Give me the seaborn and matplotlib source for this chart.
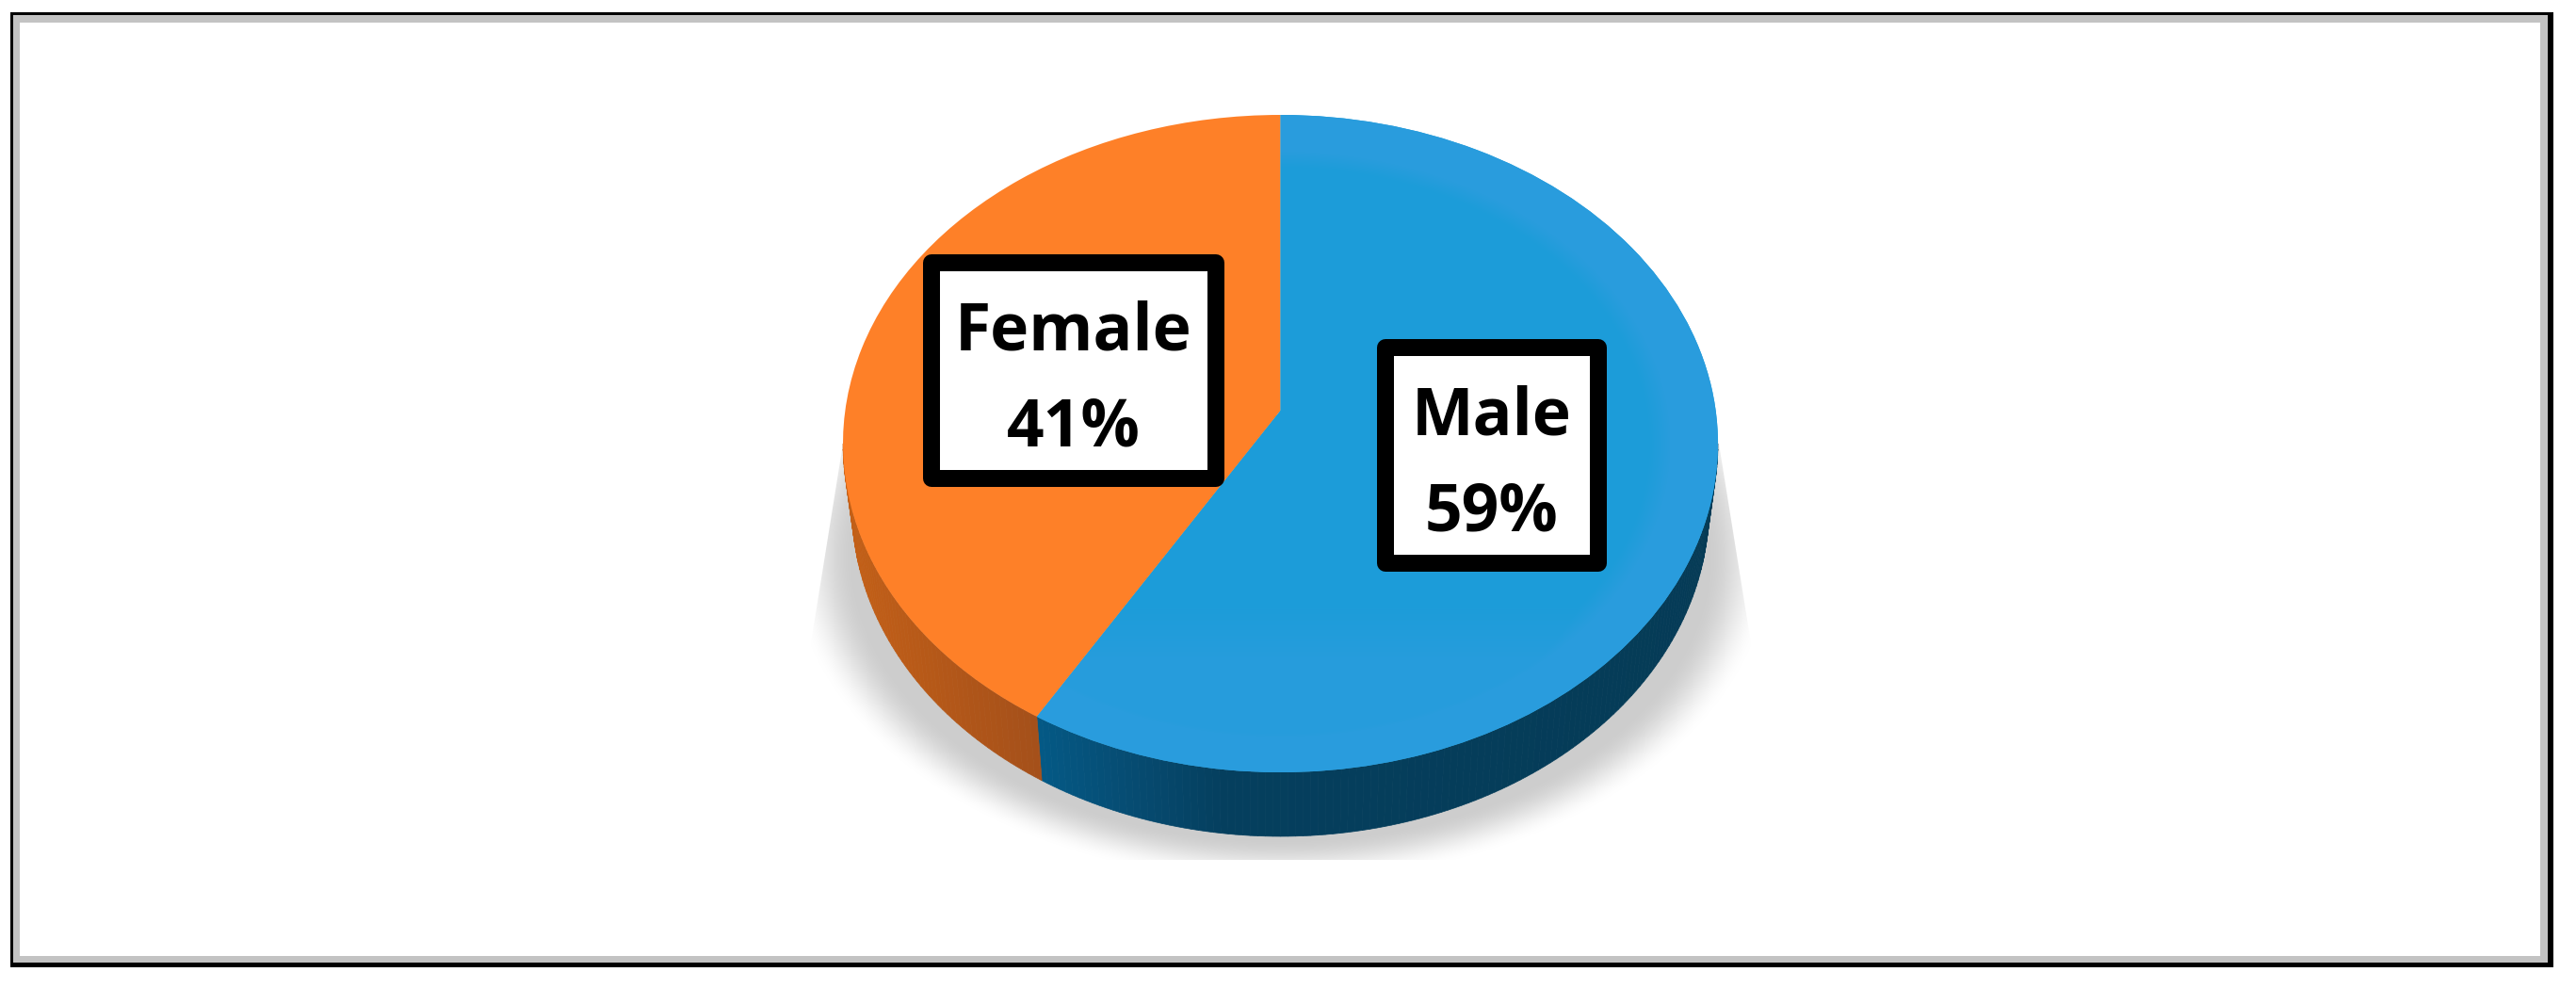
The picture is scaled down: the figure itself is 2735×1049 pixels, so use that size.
import numpy as np
import matplotlib
matplotlib.use("Agg")
import matplotlib.pyplot as plt
import seaborn as sns
from matplotlib.patches import Rectangle, PathPatch, Polygon
from matplotlib.path import Path
from matplotlib.colors import to_rgb

# values (slice edge sits a bit past the printed 59)
groups = ["Male", "Female"]
printed = ["59%", "41%"]
shares = [59.4, 40.6]

W, H = 2735, 1049
cx, cy, rx, ry = 1359.5, 471, 464.5, 349
apex_y = 436
low_cy, low_rx, low_ry = 538, 455, 350

sns.set_theme(style="white")
plt.rcParams["font.family"] = ["Open Sans", "DejaVu Sans"]
face_colors = sns.color_palette(["#1C9CD9", "#FE8028"])

fig = plt.figure(figsize=(W / 100, H / 100), dpi=100)
ax = fig.add_axes([0, 0, 1, 1])

wedges, _ = ax.pie(shares, startangle=90, counterclock=False, colors=face_colors)
paths = []
for w in wedges:
    p = w.get_path()
    v = p.vertices.copy()
    at_centre = np.hypot(v[:, 0], v[:, 1]) < 1e-6
    xy = np.column_stack([cx + rx * v[:, 0], cy - ry * v[:, 1]])
    xy[at_centre] = [cx, apex_y]
    paths.append(Path(xy, p.codes))
    w.remove()

ax.set_aspect("auto")

# frame
ax.add_patch(Rectangle((11, 13), 2700, 1014, fc="black", ec="none", zorder=1))
ax.add_patch(Rectangle((14, 16), 2691, 1006, fc="#C3C3C3", ec="none", zorder=1.1))
ax.add_patch(Rectangle((21, 24), 2676, 991, fc="white", ec="none", zorder=1.2))

# soft shadow under the disc, cut off by a trapezoid
yy, xx = np.mgrid[0:H, 0:W]
r = np.hypot((xx - cx) / 497, (yy - 590) / 330)
t = np.clip((1.05 - r) / 0.14, 0, 1)
shadow = np.zeros((H, W, 4))
shadow[..., :3] = 0xCD / 255
shadow[..., 3] = t * t * (3 - 2 * t)
im = ax.imshow(shadow, extent=(0, W, H, 0), aspect="auto", zorder=2, interpolation="nearest")
clip = Polygon([(900, 440), (855, 720), (855, 913), (1865, 913), (1865, 720), (1820, 440)],
               transform=ax.transData, fc="none", ec="none")
ax.add_patch(clip)
im.set_clip_path(clip)

# side wall
split = 360 * shares[0] / sum(shares)
blue_x = [1100, 1200, 1300, 1824]
blue_c = np.array([to_rgb(c) for c in ["#045A86", "#064C72", "#053F5E", "#053B56"]])
orange_x = [895, 1100]
orange_c = np.array([to_rgb(c) for c in ["#C46017", "#A5501A"]])
angles = np.arange(90, 271, 1.0)
angles = np.sort(np.append(angles, split))
for a0, a1 in zip(angles[:-1], angles[1:]):
    s0, c0 = np.sin(np.radians(a0)), np.cos(np.radians(a0))
    s1, c1 = np.sin(np.radians(a1)), np.cos(np.radians(a1))
    qx = [cx + rx * s0, cx + rx * s1, cx + low_rx * s1, cx + low_rx * s0]
    qy = [cy - ry * c0, cy - ry * c1, low_cy - low_ry * c1, low_cy - low_ry * c0]
    mid = np.mean(qx)
    if a1 <= split:
        col = [np.interp(mid, blue_x, blue_c[:, i]) for i in range(3)]
    else:
        col = [np.interp(mid, orange_x, orange_c[:, i]) for i in range(3)]
    ax.fill(qx, qy, fc=col, ec=col, lw=0.5, zorder=3)

# top face
male = PathPatch(paths[0], fc=face_colors[0], ec="none", zorder=4)
female = PathPatch(paths[1], fc=face_colors[1], ec="none", zorder=4)
ax.add_patch(male)
ax.add_patch(female)

# lighter rim and lower area on the blue slice
rr = np.hypot((xx - cx) / rx, (yy - cy) / ry)
rim = np.clip((rr - 0.84) / 0.05, 0, 1)
low = np.clip((yy - 640) / 60, 0, 1)
mix = np.maximum(rim, low * 0.8)[..., None]
base = np.array(to_rgb("#1C9CD9"))
light = np.array(to_rgb("#299CDD"))
tex = base * (1 - mix) + light * mix
im2 = ax.imshow(tex, extent=(0, W, H, 0), aspect="auto", zorder=4.1, interpolation="nearest")
im2.set_clip_path(male)

# label boxes: x0, y0, x1, y1 of the stroke centre line
boxes = [(1471, 369, 1697, 598), (989, 279, 1291, 508)]
text_x = [1584, 1140]
for i, b in enumerate(boxes):
    ax.add_patch(Rectangle((b[0], b[1]), b[2] - b[0], b[3] - b[1], fc="white", ec="black",
                           lw=18 * 0.72, joinstyle="round", zorder=5))
    ax.text(text_x[i], b[1] + 92, groups[i], ha="center", va="baseline", fontsize=50,
            fontweight="bold", color="black", zorder=6)
    ax.text(text_x[i], b[1] + 194, printed[i], ha="center", va="baseline", fontsize=50,
            fontweight="bold", color="black", zorder=6)

ax.set_xlim(0, W)
ax.set_ylim(H, 0)
ax.axis("off")

fig.savefig("out.png", dpi=100, facecolor="white")
plt.close(fig)
